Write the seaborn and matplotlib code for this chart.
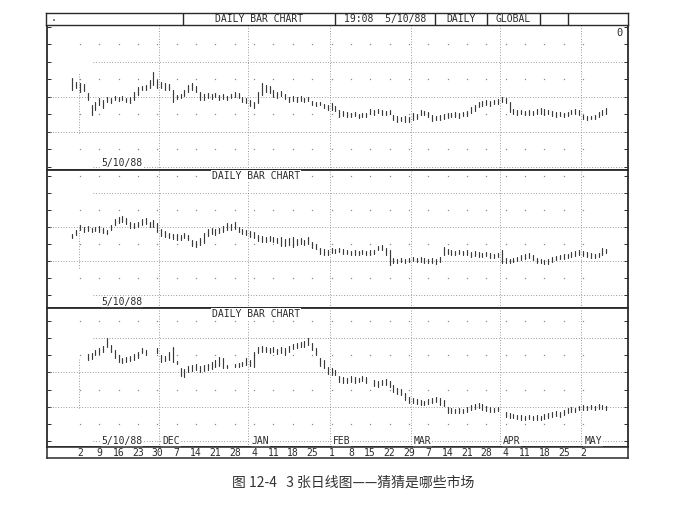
import numpy as np
import pandas as pd
import matplotlib
matplotlib.use("Agg")
import matplotlib.pyplot as plt
import matplotlib.transforms as mtransforms
import seaborn as sns

nan = np.nan

# ---------------- data ----------------
# trading-day index of the first bar (Nov 2, 1987 = 0); one value per trading day
day_start = -2

# Panel 1 (top chart) high / low, arbitrary price units
p1_high = [
    89, 85, 84, 83, 74, 62, 65, 69, 67, 70,
    69, 71, 70, 71, 69, 70, 75, 80, 81, 82,
    87, 95, 87, 85, 84, 83, 77, 72, 73, 77,
    82, 84, 81, 75, 73, 74, 73, 74, 72, 73,
    71, 73, 75, 74, 70, 69, 67, 65, 75, 84,
    82, 81, 77, 75, 76, 73, 70, 71, 70, 71,
    69, 70, 66, 65, 65, 63, 62, 64, 61, 57,
    56, 55, 54, 55, 53, 54, 54, 58, 57, 58,
    57, 56, 57, 52, 51, 50, 51, 50, 54, 53,
    57, 56, 55, 52, 51, 52, 53, 54, 54, 55,
    54, 55, 56, 60, 62, 65, 66, 67, 66, 67,
    68, 70, 69, 65, 58, 57, 57, 56, 57, 56,
    58, 59, 58, 57, 56, 55, 55, 54, 55, 57,
    58, 57, 52, 51, 51, 52, 55, 57, 59]
p1_low = [
    77, 79, 75, 76, 67, 52, 57, 62, 59, 65,
    64, 67, 66, 67, 65, 64, 67, 72, 77, 77,
    79, 82, 79, 79, 77, 77, 65, 68, 69, 71,
    75, 77, 75, 67, 67, 69, 68, 70, 67, 68,
    67, 69, 70, 69, 65, 64, 61, 59, 64, 72,
    75, 74, 70, 69, 71, 68, 65, 66, 65, 66,
    65, 66, 62, 61, 62, 59, 57, 57, 56, 50,
    51, 50, 50, 51, 49, 50, 50, 53, 52, 54,
    52, 52, 53, 47, 45, 46, 45, 45, 47, 48,
    52, 52, 50, 46, 47, 47, 48, 49, 50, 50,
    49, 51, 51, 54, 56, 60, 61, 62, 61, 63,
    63, 65, 64, 55, 53, 52, 53, 52, 52, 52,
    53, 53, 52, 53, 51, 50, 51, 50, 51, 53,
    53, 52, 48, 47, 48, 48, 50, 52, 53]

# Panel 2 (middle chart)
p2_high = [
    61, 65, 70, 68, 69, 67, 68, 69, 67, 65,
    70, 76, 78, 79, 77, 73, 72, 73, 76, 77,
    73, 75, 72, 66, 64, 62, 61, 61, 60, 62,
    60, 55, 54, 57, 62, 66, 67, 66, 67, 69,
    72, 71, 73, 68, 66, 65, 64, 63, 60, 59,
    58, 59, 58, 57, 58, 56, 57, 58, 56, 57,
    55, 58, 53, 51, 47, 46, 45, 47, 46, 47,
    46, 45, 44, 45, 44, 45, 44, 45, 45, 49,
    50, 47, 45, 37, 36, 37, 36, 37, 38, 37,
    38, 37, 36, 37, 36, 38, 48, 46, 45, 44,
    45, 44, 45, 43, 44, 43, 42, 43, 42, 41,
    42, 45, 37, 36, 37, 38, 40, 41, 42, 40,
    37, 36, 35, 36, 38, 39, 40, 41, 41, 43,
    44, 45, 44, 43, 42, 41, 42, 47, 46]
p2_low = [
    57, 60, 65, 63, 64, 63, 64, 63, 62, 61,
    65, 70, 72, 73, 71, 67, 67, 68, 70, 71,
    68, 68, 63, 59, 58, 57, 56, 55, 55, 57,
    55, 49, 48, 50, 52, 59, 61, 60, 62, 63,
    65, 65, 66, 63, 61, 60, 58, 57, 54, 53,
    53, 54, 53, 52, 49, 49, 50, 48, 50, 51,
    50, 51, 47, 46, 41, 40, 40, 42, 42, 43,
    41, 41, 40, 40, 40, 41, 40, 40, 41, 45,
    45, 40, 30, 32, 32, 33, 32, 33, 34, 33,
    33, 32, 32, 32, 31, 33, 40, 41, 40, 40,
    41, 40, 40, 38, 39, 38, 38, 39, 37, 37,
    38, 32, 32, 32, 33, 34, 35, 36, 37, 35,
    32, 32, 31, 31, 33, 35, 36, 36, 37, 38,
    39, 40, 39, 38, 37, 37, 38, 40, 42]

# Panel 3 (bottom chart)
p3_high = [
    nan, nan, nan, nan, 87, 88, 91, 93, 95, 103,
    96, 91, 86, 83, 84, 85, 87, 89, 93, 91,
    nan, nan, 93, 86, 85, 89, 94, 80, 73, 72,
    75, 76, 77, 75, 76, 77, 79, 81, 84, 83,
    76, nan, 77, 78, 79, 83, 81, 89, 94, 95,
    94, 93, 94, 92, 94, 93, 95, 97, 98, 99,
    100, 103, 98, 93, 83, 81, 74, 73, 71, 65,
    64, 63, 65, 64, 63, 65, 64, nan, 61, 60,
    61, 62, 60, 56, 53, 52, 48, 44, 43, 42,
    41, 40, 42, 43, 44, 43, 41, 34, 33, 32,
    33, 32, 34, 36, 37, 38, 37, 35, 34, 33,
    34, nan, 29, 28, 27, 26, 26, 25, 26, 25,
    26, 25, 27, 28, 29, 30, 29, 31, 33, 34,
    33, 35, 36, 35, 36, 35, 37, 36, 35]
p3_low = [
    nan, nan, nan, nan, 81, 82, 86, 87, 89, 94,
    89, 83, 79, 78, 79, 80, 81, 83, 88, 86,
    nan, nan, 88, 79, 80, 81, 79, 77, 65, 64,
    69, 70, 71, 69, 70, 71, 72, 74, 75, 73,
    73, nan, 74, 74, 75, 76, 75, 74, 88, 89,
    89, 88, 89, 87, 88, 86, 89, 92, 93, 94,
    94, 96, 91, 86, 75, 73, 67, 66, 66, 59,
    58, 58, 59, 58, 59, 60, 58, nan, 55, 54,
    56, 56, 54, 49, 47, 46, 41, 38, 38, 37,
    36, 36, 37, 38, 39, 36, 35, 28, 28, 28,
    28, 28, 29, 31, 32, 33, 31, 30, 29, 29,
    30, nan, 24, 23, 23, 22, 21, 21, 22, 21,
    21, 21, 22, 23, 24, 25, 24, 26, 28, 29,
    29, 31, 31, 31, 32, 31, 32, 32, 31]

# weekly date labels (Mondays) and their trading-day index
week_labels = ["2", "9", "16", "23", "30", "7", "14", "21", "28", "4", "11", "18", "25",
               "1", "8", "15", "22", "29", "7", "14", "21", "28", "4", "11", "18", "25", "2"]
week_index = list(range(0, 5 * len(week_labels), 5))

# month names and trading-day index of each month's first calendar day
month_names = ["DEC", "JAN", "FEB", "MAR", "APR", "MAY"]
month_index = [21, 44, 65, 86, 109, 130]

header_cells = [".", "DAILY BAR CHART", "19:08  5/10/88", "DAILY", "GLOBAL", "", ""]
panel_title = "DAILY BAR CHART"
date_label = "5/10/88"
corner_label = "0"
caption = "图 12-4   3 张日线图——猜猜是哪些市场"

# ---------------- style ----------------
sns.set_theme(style="white")
plt.rcParams["font.family"] = ["DejaVu Sans Mono", "DejaVu Sans"]

INK = "#2a2a2a"
BAR = "#3a3a3a"
GRID = "#7a7a7a"
DOT = "#8a8a8a"
FS = 7

FIG_W, FIG_H = 700, 516
fig = plt.figure(figsize=(FIG_W / 100, FIG_H / 100), dpi=100)


def px_axes(x0, y0, x1, y1):
    return fig.add_axes([x0 / FIG_W, 1 - y1 / FIG_H, (x1 - x0) / FIG_W, (y1 - y0) / FIG_H])


XL, XR = 47, 628
XLIM = (-8.5, 141.6)
WHITE_BOX = dict(facecolor="white", edgecolor="none", pad=0.6)

panels = [
    dict(px=(25, 170), ylim=(-3, 142), step=35.0, high=p1_high, low=p1_low,
         title=False, vpart=(34, 94)),
    dict(px=(170, 308), ylim=(-13, 125), step=34.0, high=p2_high, low=p2_low,
         title=True, vpart=(27, 70)),
    dict(px=(308, 447), ylim=(-6, 133), step=34.3, high=p3_high, low=p3_low,
         title=True, vpart=(33, 83)),
]

axes = []
for k, p in enumerate(panels):
    ax = px_axes(XL, p["px"][0], XR, p["px"][1])
    axes.append(ax)
    days = np.arange(day_start, day_start + len(p["high"]))
    df = pd.DataFrame({
        "day": np.concatenate([days, days]),
        "price": np.concatenate([np.asarray(p["high"], float), np.asarray(p["low"], float)]),
    }).dropna()
    sns.lineplot(data=df, x="day", y="price", units="day", estimator=None,
                 color=BAR, linewidth=0.85, legend=False, ax=ax, sort=True)

    step = p["step"]
    lines = [step * j for j in range(4)]
    dots = [step * (j + 0.5) for j in range(4)]
    for j, v in enumerate(lines):
        xmin = 3.5 if j in (0, 3) else XLIM[0]
        ax.hlines(v, xmin, XLIM[1], colors=GRID, linewidth=0.6,
                  linestyles=(0, (1, 2.2)), zorder=1)
    for v in dots:
        ax.plot(week_index, [v] * len(week_index), linestyle="none", marker="s",
                markersize=0.9, markeredgewidth=0, color=DOT, zorder=1)
    for m in month_index:
        ax.axvline(m - 0.5, color=GRID, linewidth=0.6, linestyle=(0, (1, 2.2)), zorder=1)
    ax.vlines(-0.3, p["vpart"][0], p["vpart"][1], colors=GRID, linewidth=0.6,
              linestyles=(0, (1, 2.2)), zorder=1)

    ax.set_xlim(*XLIM)
    ax.set_ylim(*p["ylim"])
    ax.set_xlabel("")
    ax.set_ylabel("")
    ax.set_xticks([])
    yt = np.arange(0, p["ylim"][1], step / 2)
    ax.set_yticks(yt)
    ax.tick_params(axis="y", direction="in", length=3, width=0.7, color=INK,
                   left=True, right=True, labelleft=False, labelright=False)
    for s in ax.spines.values():
        s.set_color(INK)
        s.set_linewidth(1.3)
        s.set_visible(True)
    ax.set_facecolor("white")

    if p["title"]:
        ax.text(0.36, 0.955, panel_title, transform=ax.transAxes, ha="center",
                va="center", fontsize=FS, color=INK, bbox=WHITE_BOX, zorder=4)
    if k < 2:
        ax.text(0.129, 0.045, date_label, transform=ax.transAxes, ha="center",
                va="center", fontsize=FS, color=INK, bbox=WHITE_BOX, zorder=4)

ax1, ax2, ax3 = axes
ax1.text(0.986, 0.945, corner_label, transform=ax1.transAxes, ha="center",
         va="center", fontsize=FS + 0.5, color=INK)

# date and month labels along the bottom grid line of the last chart
ax3.text(0.129, 0.0, date_label, transform=mtransforms.blended_transform_factory(
         ax3.transAxes, ax3.transData), ha="center", va="center",
         fontsize=FS, color=INK, bbox=WHITE_BOX, zorder=4)
for name, m in zip(month_names, month_index):
    ax3.text(m + 0.3, 0.0, name, ha="left", va="center", fontsize=FS, color=INK,
             bbox=WHITE_BOX, zorder=4)

# date strip under the charts
strip = px_axes(XL, 447, XR, 458)
strip.set_xlim(*XLIM)
strip.set_ylim(0, 1)
strip.set_xticks([])
strip.set_yticks([])
trans = mtransforms.blended_transform_factory(strip.transData, strip.transAxes)
for i, lab in zip(week_index, week_labels):
    strip.text(i, 0.45, lab, transform=trans, ha="center", va="center",
               fontsize=FS, color=INK)
for s in strip.spines.values():
    s.set_color(INK)
    s.set_linewidth(1.1)

# header row
header = px_axes(46, 13, 628, 25)
edges = [46, 183, 335, 435, 487, 540, 568, 628]
header.set_xlim(edges[0], edges[-1])
header.set_ylim(0, 1)
header.set_xticks([])
header.set_yticks([])
for e in edges[1:-1]:
    header.axvline(e, color=INK, linewidth=1.0)
for txt, a, b in zip(header_cells, edges[:-1], edges[1:]):
    if txt == ".":
        header.text(a + 5, 0.55, txt, ha="left", va="center", fontsize=FS, color=INK)
    elif txt:
        header.text((a + b) / 2, 0.5, txt, ha="center", va="center", fontsize=FS, color=INK)
for s in header.spines.values():
    s.set_color(INK)
    s.set_linewidth(1.0)

fig.text(0.505, 1 - 483 / FIG_H, caption, ha="center", va="center", fontsize=10,
         color="#333333", family=["Noto Sans CJK SC", "DejaVu Sans"])

fig.savefig("out.png", dpi=100, facecolor="white")
